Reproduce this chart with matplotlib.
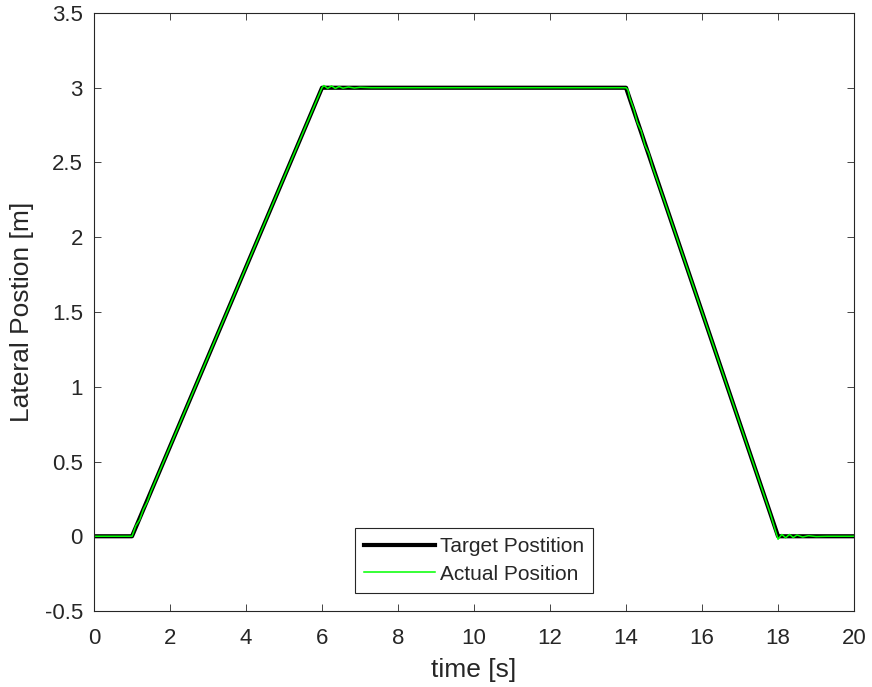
import matplotlib
matplotlib.use("Agg")
import matplotlib.pyplot as plt

# target trajectory (piecewise linear)
t_target = [0, 1, 6, 14, 18, 20]
y_target = [0, 0, 3, 3, 0, 0]

t_actual = [0, 1.0, 1.1, 1.2, 1.3, 1.4, 1.5, 1.7, 2, 3, 4, 5, 5.8, 6.0, 6.05, 6.15,
            6.25, 6.35, 6.45, 6.55, 6.7, 6.85, 7.0, 7.3, 14.0, 14.05, 14.1, 14.2,
            14.3, 14.4, 14.5, 14.6, 14.7, 15, 16, 17, 17.8, 18.0, 18.1, 18.2, 18.3,
            18.4, 18.5, 18.65, 18.8, 19.0, 19.3, 20]
y_actual = [0, 0, 0.07, 0.11, 0.18, 0.23, 0.30, 0.42, 0.60, 1.2, 1.8, 2.4, 2.88, 3.0,
            3.015, 2.995, 3.012, 2.995, 3.008, 2.997, 3.005, 2.998, 3.003, 3.0, 3.0,
            2.985, 2.93, 2.86, 2.765, 2.71, 2.615, 2.56, 2.47, 2.25, 1.5, 0.75, 0.15,
            -0.02, 0.012, -0.01, 0.012, -0.008, 0.008, -0.005, 0.004, -0.002, 0, 0]

plt.rcParams["font.family"] = ["Liberation Sans", "DejaVu Sans"]
gray = "#262626"

fig = plt.figure(figsize=(8.72, 6.87), dpi=100)
ax = fig.add_axes([0.1078, 0.1106, 0.8716, 0.8705])

ax.plot(t_target, y_target, color="black", linewidth=3, snap=False,
        solid_joinstyle="round", label="Target Postition")
ax.plot(t_actual, y_actual, color="#00ff00", linewidth=1.1, snap=False,
        label="Actual Position")

ax.set_xlim(0, 20)
ax.set_ylim(-0.5, 3.5)
ax.set_xticks(range(0, 21, 2))
ax.set_yticks([-0.5, 0, 0.5, 1, 1.5, 2, 2.5, 3, 3.5])
ax.set_yticklabels(["-0.5", "0", "0.5", "1", "1.5", "2", "2.5", "3", "3.5"])

ax.tick_params(direction="in", top=True, right=True, labelsize=16,
               colors=gray, length=5, width=0.6)
ax.tick_params(axis="y", pad=8)
ax.tick_params(axis="x", pad=12)
for s in ax.spines.values():
    s.set_color(gray)
    s.set_linewidth(0.8)

ax.set_xlabel("time [s]", fontsize=19, color=gray, labelpad=7)
ax.set_ylabel("Lateral Postion [m]", fontsize=19, color=gray, labelpad=8)

leg = ax.legend(loc="lower center", bbox_to_anchor=(0.5, 0.03), fontsize=15,
                handlelength=3.4, handletextpad=0.25, borderpad=0.45,
                labelspacing=0.42, fancybox=False, framealpha=1,
                edgecolor=gray, borderaxespad=0)
leg.get_frame().set_linewidth(0.8)
for txt in leg.get_texts():
    txt.set_color(gray)

fig.savefig("out.png", dpi=100)
